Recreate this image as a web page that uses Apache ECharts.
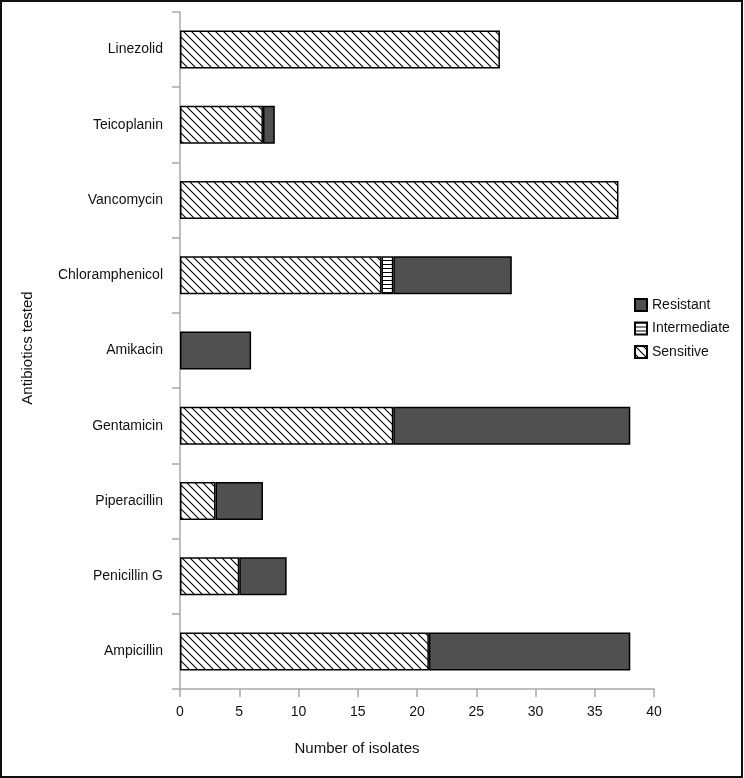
<!DOCTYPE html>
<html>
<head>
<meta charset="utf-8">
<script src="https://cdn.jsdelivr.net/npm/echarts@6/dist/echarts.min.js"></script>
<style>
html,body{margin:0;padding:0;background:#fff;}
#chart{width:744px;height:778px;}
</style>
</head>
<body>
<div id="chart"></div>
<script>
var categories = ['Ampicillin','Penicillin G','Piperacillin','Gentamicin','Amikacin','Chloramphenicol','Vancomycin','Teicoplanin','Linezolid'];
var sensitive    = [21, 5, 3, 18, 0, 17, 37, 7, 27];
var intermediate = [0, 0, 0, 0, 0, 1, 0, 0, 0];
var resistant    = [17, 4, 4, 20, 6, 10, 0, 1, 0];
var xTicks = [0, 5, 10, 15, 20, 25, 30, 35, 40];

function hatchCanvas(){
  var s = 8, c = document.createElement('canvas');
  c.width = s; c.height = s;
  var g = c.getContext('2d');
  g.fillStyle = '#fff'; g.fillRect(0,0,s,s);
  g.strokeStyle = '#000'; g.lineWidth = 1.1;
  g.beginPath();
  g.moveTo(-1,-1); g.lineTo(s+1,s+1);
  g.moveTo(-1,s-1); g.lineTo(1,s+1);
  g.moveTo(s-1,-1); g.lineTo(s+1,1);
  g.stroke();
  return c;
}
function hlineCanvas(){
  var s = 4, c = document.createElement('canvas');
  c.width = s; c.height = s;
  var g = c.getContext('2d');
  g.fillStyle = '#fff'; g.fillRect(0,0,s,s);
  g.fillStyle = '#000'; g.fillRect(0,0,s,1);
  return c;
}
function nz(arr){ return arr.map(function(v){ return v === 0 ? '-' : v; }); }

var chart = echarts.init(document.getElementById('chart'));
var font = 'Liberation Sans, Arial, sans-serif';
var barW = 38;
chart.setOption({
  animation: false,
  backgroundColor: '#fff',
  grid: {left: 180, right: 90, top: 12, bottom: 89, containLabel: false},
  legend: {
    orient: 'vertical', left: 634, top: 298, padding: 0,
    itemWidth: 12, itemHeight: 12, itemGap: 9.5, icon: 'rect',
    data: ['Resistant','Intermediate','Sensitive'],
    textStyle: {fontFamily: font, fontSize: 14, color: '#111'}
  },
  xAxis: {
    type: 'value', min: 0, max: 40, interval: 5,
    axisLine: {show: true, lineStyle: {color: '#a8a8a8', width: 1.5}},
    axisTick: {show: true, length: 8, lineStyle: {color: '#a8a8a8', width: 1.5}},
    axisLabel: {margin: 16, fontFamily: font, fontSize: 14, color: '#111',
      formatter: function(v){ return xTicks.indexOf(v) >= 0 ? String(v) : ''; }},
    splitLine: {show: false}
  },
  yAxis: {
    type: 'category', data: categories,
    axisLine: {show: true, lineStyle: {color: '#a8a8a8', width: 1.5}},
    axisTick: {show: true, length: 8, lineStyle: {color: '#a8a8a8', width: 1.5}},
    axisLabel: {margin: 17, fontFamily: font, fontSize: 14, color: '#111'}
  },
  series: [
    {name: 'Sensitive', type: 'bar', stack: 'a', barWidth: barW, data: nz(sensitive),
     itemStyle: {color: {image: hatchCanvas(), repeat: 'repeat'}, borderColor: '#000', borderWidth: 1.5}},
    {name: 'Intermediate', type: 'bar', stack: 'a', barWidth: barW, data: nz(intermediate),
     itemStyle: {color: {image: hlineCanvas(), repeat: 'repeat'}, borderColor: '#000', borderWidth: 1.5}},
    {name: 'Resistant', type: 'bar', stack: 'a', barWidth: barW, data: nz(resistant),
     itemStyle: {color: '#505050', borderColor: '#000', borderWidth: 1.5}}
  ],
  graphic: [
    {type: 'text', x: 357, y: 749, style: {text: 'Number of isolates', font: '15px ' + font, fill: '#111', textAlign: 'center', textVerticalAlign: 'middle'}},
    {type: 'text', x: 28, y: 348, rotation: Math.PI/2, style: {text: 'Antibiotics tested', font: '15px ' + font, fill: '#111', textAlign: 'center', textVerticalAlign: 'middle'}},
    {type: 'rect', shape: {x: 1, y: 1, width: 741, height: 776}, style: {fill: 'none', stroke: '#111', lineWidth: 2}, z: 100}
  ]
});
</script>
</body>
</html>
